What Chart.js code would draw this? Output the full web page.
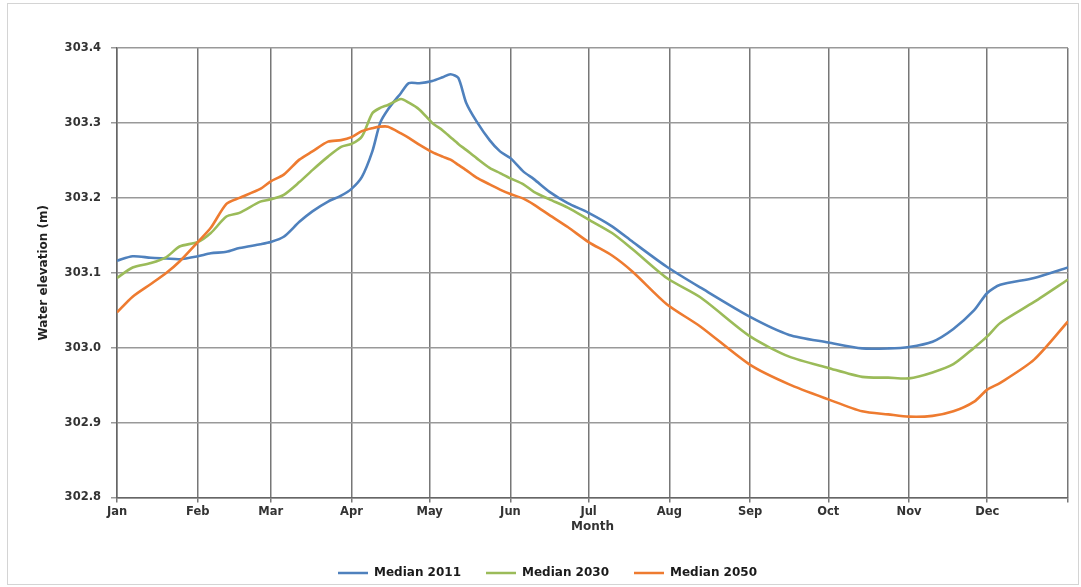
<!DOCTYPE html>
<html>
<head>
<meta charset="utf-8">
<title>Median water elevation</title>
<script src="https://cdn.jsdelivr.net/npm/chart.js@4.4.1/dist/chart.umd.min.js"></script>
<style>
  html, body { margin: 0; padding: 0; background: #fff; overflow: hidden; }
  canvas { display: block; }
</style>
</head>
<body>
<canvas id="elevChart" width="1081" height="587"></canvas>
<script>
// day of year for each reading, shared by all three series
const days = [0, 6, 13, 19, 24, 31, 36, 42, 47, 55, 59, 64, 70, 75, 81, 86, 90, 94, 98, 101,
  104, 109, 112, 116, 121, 125, 128, 131, 134, 138, 143, 147, 151, 156, 160, 166, 173, 181,
  190, 198, 211, 224, 243, 258, 273, 286, 296, 304, 313, 321, 329, 334, 339, 352, 365];

const median2011 = [303.116, 303.122, 303.120, 303.119, 303.118, 303.122, 303.126, 303.128,
  303.133, 303.138, 303.141, 303.148, 303.168, 303.182, 303.195, 303.203, 303.212, 303.228,
  303.262, 303.300, 303.318, 303.340, 303.353, 303.353, 303.356, 303.361, 303.365, 303.360,
  303.327, 303.302, 303.277, 303.262, 303.253, 303.235, 303.225, 303.208, 303.193, 303.180,
  303.162, 303.141, 303.108, 303.080, 303.041, 303.017, 303.007, 302.999, 302.999, 303.001,
  303.008, 303.025, 303.050, 303.073, 303.084, 303.093, 303.107];

const median2030 = [303.093, 303.107, 303.113, 303.121, 303.135, 303.141, 303.153, 303.175,
  303.180, 303.195, 303.198, 303.204, 303.221, 303.237, 303.255, 303.268, 303.272, 303.282,
  303.313, 303.320, 303.324, 303.332, 303.327, 303.318, 303.300, 303.290, 303.281, 303.272,
  303.264, 303.253, 303.240, 303.233, 303.226, 303.218, 303.208, 303.198, 303.187, 303.171,
  303.153, 303.131, 303.093, 303.067, 303.015, 302.988, 302.973, 302.961, 302.960, 302.959,
  302.967, 302.978, 303.000, 303.015, 303.033, 303.061, 303.091];

const median2050 = [303.047, 303.068, 303.085, 303.100, 303.115, 303.141, 303.160, 303.192,
  303.200, 303.212, 303.222, 303.231, 303.251, 303.262, 303.275, 303.277, 303.281, 303.289,
  303.293, 303.295, 303.295, 303.286, 303.280, 303.271, 303.261, 303.255, 303.251, 303.244,
  303.237, 303.227, 303.218, 303.211, 303.205, 303.199, 303.191, 303.177, 303.161, 303.141,
  303.123, 303.101, 303.058, 303.028, 302.977, 302.951, 302.931, 302.915, 302.911, 302.908,
  302.909, 302.915, 302.928, 302.944, 302.953, 302.984, 303.035];

const monthStarts = [0, 31, 59, 90, 120, 151, 181, 212, 243, 273, 304, 334, 365];
const monthLabels = ['Jan', 'Feb', 'Mar', 'Apr', 'May', 'Jun', 'Jul', 'Aug', 'Sep', 'Oct', 'Nov', 'Dec'];

const seriesNames = ['Median 2011', 'Median 2030', 'Median 2050'];
const seriesColors = ['#4F81BD', '#9BBB59', '#EE7B30'];

function toPoints(values) {
  return days.map((d, i) => ({x: d, y: values[i]}));
}

const FONT = 'DejaVu Sans';

// light frame round the whole picture
const framePlugin = {
  id: 'frame',
  beforeDraw(chart) {
    const {ctx} = chart;
    ctx.save();
    ctx.fillStyle = '#fff';
    ctx.fillRect(0, 0, chart.width, chart.height);
    ctx.strokeStyle = '#d4d4d4';
    ctx.lineWidth = 1;
    ctx.strokeRect(7.5, 3.5, 1071, 581);
    ctx.restore();
  }
};

// later series are painted on top, like the original
const datasets = [median2011, median2030, median2050].map((vals, i) => ({
  label: seriesNames[i],
  data: toPoints(vals),
  borderColor: seriesColors[i],
  backgroundColor: seriesColors[i],
  borderWidth: 2.6,
  pointRadius: 0,
  tension: 0.25,
  order: 3 - i
}));

new Chart(document.getElementById('elevChart'), {
  type: 'line',
  data: {datasets: datasets},
  plugins: [framePlugin],
  options: {
    responsive: false,
    animation: false,
    layout: {padding: {left: 27, right: 13, top: 48, bottom: -2}},
    scales: {
      x: {
        type: 'linear',
        min: 0,
        max: 365,
        afterBuildTicks: (scale) => {
          scale.ticks = monthStarts.map((v) => ({value: v}));
        },
        afterFit: (scale) => { scale.height = 44.5; },
        ticks: {
          autoSkip: false,
          maxRotation: 0,
          padding: 3,
          color: '#333',
          font: {family: FONT, size: 11.5, weight: 'bold'},
          callback: (value) => monthLabels[monthStarts.indexOf(value)] ?? ''
        },
        grid: {color: '#777', lineWidth: 1.5, tickLength: 5},
        border: {color: '#666', width: 1.5},
        title: {
          display: true,
          text: 'Month',
          color: '#333',
          font: {family: FONT, size: 12, weight: 'bold'},
          padding: {top: 0, bottom: 7.5}
        }
      },
      y: {
        min: 302.8,
        max: 303.4,
        afterFit: (scale) => { scale.width = 90; },
        ticks: {
          stepSize: 0.1,
          padding: 10,
          color: '#333',
          font: {family: FONT, size: 11.5, weight: 'bold'},
          callback: (value) => value.toFixed(1)
        },
        grid: {color: '#999', lineWidth: 1.5, tickLength: 6},
        border: {color: '#666', width: 1.5},
        title: {
          display: true,
          text: 'Water elevation (m)',
          color: '#222',
          font: {family: FONT, size: 12, weight: 'bold'},
          padding: {top: 10, bottom: 0}
        }
      }
    },
    plugins: {
      tooltip: {enabled: false},
      legend: {
        position: 'bottom',
        labels: {
          boxWidth: 30,
          boxHeight: 2.5,
          padding: 25,
          color: '#1a1a1a',
          font: {family: FONT, size: 12, weight: 'bold'},
          sort: (a, b) => a.datasetIndex - b.datasetIndex,
          generateLabels: (chart) => {
            const items = Chart.defaults.plugins.legend.labels.generateLabels(chart);
            items.forEach((item) => { item.lineWidth = 0; });
            return items;
          }
        }
      }
    }
  }
});
</script>
</body>
</html>
